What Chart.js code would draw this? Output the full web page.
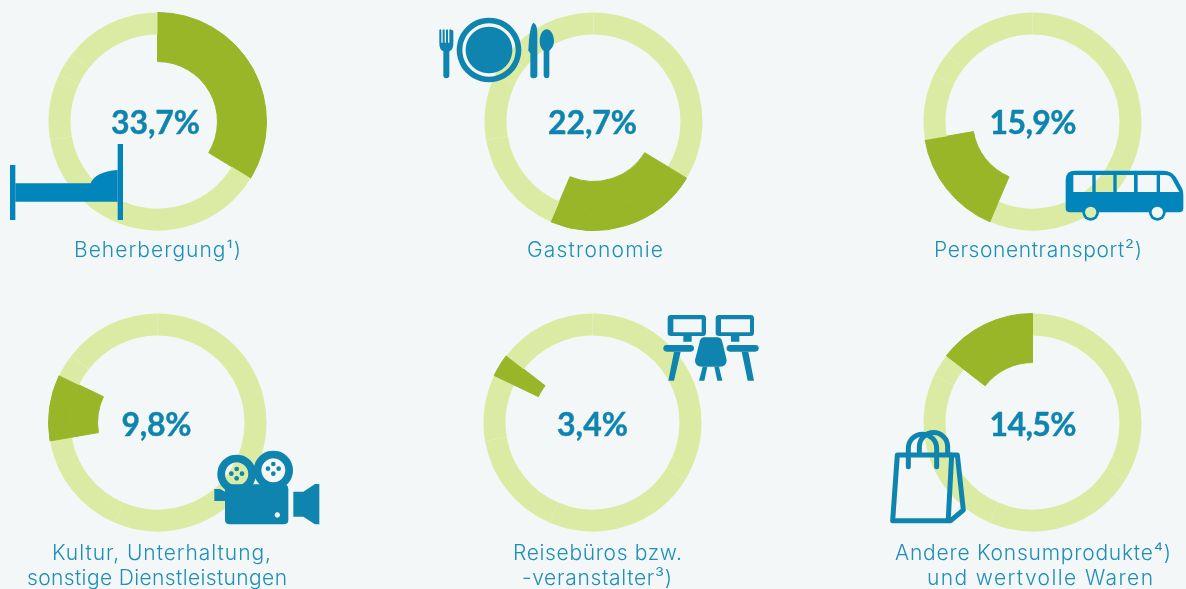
<!DOCTYPE html>
<html lang="de">
<head>
<meta charset="utf-8">
<title>Anteile</title>
<script src="https://cdn.jsdelivr.net/npm/chart.js@4"></script>
<style>
html,body{margin:0;padding:0;width:1186px;height:589px;overflow:hidden;background:#f3f7f8}
canvas{position:absolute;display:block}
#overlay{position:absolute;left:0;top:0;width:1186px;height:589px;pointer-events:none}
.pct{font:700 32px Lato,sans-serif;fill:#0f84ae;stroke:#0f84ae;stroke-width:.4;text-anchor:middle}
.lbl{font:300 21px Inter,sans-serif;fill:#1d8fb8;text-anchor:middle}
.ico{fill:#0f84ae}
.ico2{fill:#0285ba}
</style>
</head>
<body>
<svg id="overlay" xmlns="http://www.w3.org/2000/svg" viewBox="0 0 1186 589">
  <!-- bed -->
  <g class="ico2" transform="scale(.33333)">
    <rect x="30" y="495" width="16" height="165"/>
    <rect x="353" y="432" width="16" height="228"/>
    <path d="M46 550H272Q285 515 353 510V605H46Z"/>
  </g>
  <!-- plate and cutlery -->
  <g class="ico" transform="translate(420,0) scale(.33333)">
    <path fill-rule="evenodd" d="M207 53a97 97 0 1 0 .01 0ZM207 70a80 80 0 1 1-.01 0ZM207 80a70 70 0 1 0 .01 0Z"/>
    <path d="M58 90q3-4 6 0V128H68V90q3-4 6 0V128H78V90q3-4 6 0V128H88V90q3-4 6 0 6 0 6 4V130Q100 150 88 154V226Q88 235 79 235T70 226V154Q58 150 58 130Z"/>
    <path d="M340 68Q352 72 352 100V226Q352 235 341 235T331 226V160L325 152Q328 80 340 68Z"/>
    <path d="M380 88C392 88 402 105 402 122C402 140 392 148 388 152V226Q388 235 380 235T371 226V152C366 148 359 140 359 122C359 105 368 88 380 88Z"/>
  </g>
  <!-- bus -->
  <g class="ico2" transform="translate(900,0) scale(.33333)">
    <path fill-rule="evenodd" d="M525 512H790Q815 512 828 532L846 565Q850 572 850 585V625Q850 637 838 637H510Q497 637 497 625V540Q497 512 525 512ZM520 525V576H577V525ZM587 525V576H640V525ZM650 525V576H702V525ZM713 525V576H770V525ZM780 525V576H838L815 535Q808 525 795 525Z"/>
    <circle cx="572" cy="637" r="25" fill="#0285ba"/>
    <circle cx="572" cy="637" r="17" fill="#dcebb0"/>
    <circle cx="772" cy="637" r="25" fill="#0285ba"/>
    <circle cx="772" cy="637" r="17" fill="#f3f7f8"/>
  </g>
  <!-- film camera -->
  <g class="ico" transform="translate(0,300) scale(.33333)">
    <path fill-rule="evenodd" d="M710 464a58 58 0 1 0 .01 0ZM710 487a35 35 0 1 1-.01 0Z"/>
    <path fill-rule="evenodd" d="M820 452a59 59 0 1 0 .01 0ZM820 475a36 36 0 1 1-.01 0Z"/>
    <circle cx="710" cy="507" r="7"/><circle cx="694" cy="521" r="7"/><circle cx="726" cy="521" r="7"/><circle cx="710" cy="535" r="7"/>
    <circle cx="820" cy="492" r="7"/><circle cx="804" cy="506" r="7"/><circle cx="836" cy="506" r="7"/><circle cx="820" cy="521" r="7"/>
    <path fill-rule="evenodd" d="M690 553H850Q865 553 865 568V660Q865 673 850 673H690Q675 673 675 660V603H660L643 603V567H660L675 575V568Q675 553 690 553ZM832 637a8 8 0 1 0 .01 0Z"/>
    <path d="M880 575H910L945 552H958V673H945L910 650H880Z"/>
  </g>
  <!-- desks -->
  <g class="ico" transform="translate(470,300) scale(.33333)">
    <path fill-rule="evenodd" d="M603 45H698Q708 45 708 55V98Q708 108 698 108H665V125H640V108H603Q593 108 593 98V55Q593 45 603 45ZM610 58V97H695V58Z"/>
    <path fill-rule="evenodd" d="M747 45H842Q852 45 852 55V98Q852 108 842 108H808V125H783V108H747Q737 108 737 98V55Q737 45 747 45ZM753 58V97H840V58Z"/>
    <rect x="580" y="135" width="92" height="20" rx="10"/>
    <rect x="770" y="135" width="96" height="20" rx="10"/>
    <path d="M612 155H632L612 242H595Z"/>
    <path d="M815 155H835L852 242H833Z"/>
    <path d="M702 112H744Q755 112 758 130L770 180Q770 200 750 200H695Q675 200 675 180L688 130Q690 112 702 112Z"/>
    <path d="M698 200H712L703 242H687Z"/>
    <path d="M733 200H747L757 242H742Z"/>
  </g>
  <!-- shopping bag -->
  <g transform="translate(880,300) scale(.33333)" fill="none" stroke="#0f84ae" stroke-width="15" stroke-linecap="round" stroke-linejoin="round">
    <path d="M52 465H232L250 630L212 662H38Z"/>
    <path d="M215 465L205 655"/>
    <path d="M85 500V445A42 42 0 0 1 170 445V500"/>
    <path d="M118 455V440A42 42 0 0 1 203 440V460"/>
  </g>
  <g id="texts"></g>
</svg>
<script>
const categories = ["Beherbergung¹)", "Gastronomie", "Personentransport²)", "Kultur, Unterhaltung, sonstige Dienstleistungen", "Reisebüros bzw. -veranstalter³)", "Andere Konsumprodukte⁴) und wertvolle Waren"];
const shares = [33.7, 22.7, 15.9, 9.8, 3.4, 14.5];
const shareLabels = ["33,7%", "22,7%", "15,9%", "9,8%", "3,4%", "14,5%"];
const labelLines = [["Beherbergung¹)"], ["Gastronomie"], ["Personentransport²)"], ["Kultur, Unterhaltung,", "sonstige Dienstleistungen"], ["Reisebüros bzw.", "-veranstalter³)"], ["Andere Konsumprodukte⁴)", "und wertvolle Waren"]];

const DARK = "#98b628", LIGHT = "#dcebA4";
const centers = [[157,121],[593,121],[1032,121],[157,422],[592.5,422],[1032,422]];
const pctLayout = [[155.5,134,89],[592.5,134,89],[1033,134,87],[156.5,436,70],[592.5,436,71],[1033,436,87]];
const lblLayout = [
  [[157.5,257,167]],[[595,257,136]],[[1038,257,208]],
  [[161.5,560,219],[157,585,260]],
  [[597.5,560,169],[597,585,150]],
  [[1033,560,276],[1040,585,226]]
];
const R = 109.5;

categories.forEach((name, i) => {
  const c = document.createElement("canvas");
  c.width = c.height = R * 2;
  c.style.left = (centers[i][0] - R) + "px";
  c.style.top = (centers[i][1] - R) + "px";
  document.body.insertBefore(c, document.getElementById("overlay"));
  const hi = (a, b) => shares.map((_, k) => k === i ? a : b);
  new Chart(c, {
    type: "doughnut",
    data: {
      labels: categories,
      datasets: [
        { data: shares, weight: 22,
          backgroundColor: hi(DARK, LIGHT),
          borderColor: hi(DARK, "rgba(0,0,0,0)"),
          borderWidth: hi(1, 0) },
        { data: shares, weight: 27,
          backgroundColor: hi(DARK, "rgba(0,0,0,0)"),
          borderColor: hi(DARK, "rgba(0,0,0,0)"),
          borderWidth: hi(1, 0) }
      ]
    },
    options: {
      responsive: false, animation: false, cutout: "55%",
      layout: { padding: 0 },
      plugins: { legend: { display: false }, tooltip: { enabled: false } }
    }
  });
});

const NS = "http://www.w3.org/2000/svg", layer = document.getElementById("texts");
function addText(str, cls, x, y, w) {
  const t = document.createElementNS(NS, "text");
  t.setAttribute("class", cls);
  t.setAttribute("x", x); t.setAttribute("y", y);
  t.setAttribute("textLength", w); t.setAttribute("lengthAdjust", "spacing");
  t.textContent = str;
  layer.appendChild(t);
}
shareLabels.forEach((s, i) => addText(s, "pct", pctLayout[i][0], pctLayout[i][1], pctLayout[i][2]));
labelLines.forEach((ls, i) => ls.forEach((s, j) => addText(s, "lbl", lblLayout[i][j][0], lblLayout[i][j][1], lblLayout[i][j][2])));
</script>
</body>
</html>
